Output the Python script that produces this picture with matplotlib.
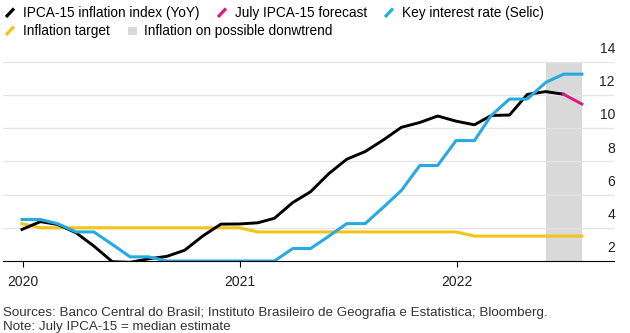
import matplotlib
matplotlib.use('Agg')
import matplotlib.pyplot as plt
from matplotlib.lines import Line2D
from matplotlib.patches import Rectangle
import pandas as pd

plt.rcParams['font.family'] = ['Liberation Sans', 'DejaVu Sans']

# monthly points, dated at month end
months = pd.date_range('2019-12-31', '2022-07-31', freq='ME')

# IPCA-15 YoY, Dec 2019 .. Jun 2022
ipca = [3.90, 4.37, 4.20, 3.70, 2.90, 1.96, 1.92, 2.13, 2.28, 2.65, 3.52, 4.22, 4.23,
        4.30, 4.57, 5.52, 6.17, 7.27, 8.13, 8.59, 9.30, 10.05, 10.34, 10.73, 10.42,
        10.20, 10.76, 10.79, 12.03, 12.20, 12.04]
# July forecast (last actual -> median estimate)
forecast = [12.04, 11.45]
# Selic, Dec 2019 .. Jul 2022
selic = [4.50, 4.50, 4.25, 3.75, 3.75, 3.00, 2.25, 2.25, 2.00, 2.00, 2.00, 2.00, 2.00,
         2.00, 2.00, 2.75, 2.75, 3.50, 4.25, 4.25, 5.25, 6.25, 7.75, 7.75, 9.25,
         9.25, 10.75, 11.75, 11.75, 12.75, 13.25, 13.25]
# inflation target, Dec 2019 .. Jul 2022
target = [4.25] + [4.00] * 12 + [3.75] * 12 + [3.50] * 7

shade_start, shade_end = '2022-05-31', '2022-07-31'
y_ticks = [2, 4, 6, 8, 10, 12, 14]
year_ticks = ['2020-01-01', '2021-01-01', '2022-01-01']
year_labels = ['2020', '2021', '2022']

BLACK = '#000000'
PINK = '#e0197d'
BLUE = '#27a9e1'
YELLOW = '#f3c317'
SHADE = '#d9d9d9'
GRID = '#e4e4e4'

W, H = 630, 333
fig = plt.figure(figsize=(W / 100, H / 100), dpi=100)

# axes placed in pixel terms
left, right, top, bottom = 3, 614, 61.7, 261
ax = fig.add_axes([left / W, 1 - bottom / H, (right - left) / W, (bottom - top) / H])

ax.set_ylim(2, 14)
ax.set_xlim(pd.Timestamp('2019-11-29'), pd.Timestamp('2022-09-23'))

ax.axvspan(pd.Timestamp(shade_start), pd.Timestamp(shade_end), color=SHADE, lw=0, zorder=1)

for v in y_ticks[1:]:
    ax.axhline(v, color=GRID, lw=0.9, zorder=1.5)

ax.plot(months, target, color=YELLOW, lw=2.2, zorder=2, solid_joinstyle='round')
ax.plot(months[:len(ipca)], ipca, color=BLACK, lw=2.1, zorder=3, solid_joinstyle='round')
ax.plot(months[len(ipca) - 1:], forecast, color=PINK, lw=2.1, zorder=3, solid_joinstyle='round')
ax.plot(months, selic, color=BLUE, lw=2.2, zorder=4, solid_joinstyle='round')

for s in ['top', 'left', 'right']:
    ax.spines[s].set_visible(False)
ax.spines['bottom'].set_color('black')
ax.spines['bottom'].set_linewidth(0.8)
ax.spines['bottom'].set_zorder(5)

ax.set_yticks([])
ax.set_xticks([pd.Timestamp(d) for d in year_ticks])
ax.set_xticklabels(year_labels)
ax.tick_params(axis='x', length=4, width=0.8, color='black', pad=6,
               labelsize=10, labelcolor='#222222')

# y labels sit above their gridlines at the right
for v in y_ticks:
    ax.text(1.0016, v + 0.77, str(v), transform=ax.get_yaxis_transform(),
            ha='right', va='center', fontsize=10, color='#222222')

# legend drawn by hand in pixel positions
def fx(x):
    return x / W

def fy(y):
    return 1 - y / H

legend_rows = [
    [('line', BLACK, 5, 'IPCA-15 inflation index (YoY)'),
     ('line', PINK, 217, 'July IPCA-15 forecast'),
     ('line', BLUE, 384, 'Key interest rate (Selic)')],
    [('line', YELLOW, 5, 'Inflation target'),
     ('box', SHADE, 128, 'Inflation on possible donwtrend')],
]
row_y = [13, 31]
for row, yc in zip(legend_rows, row_y):
    for kind, col, x0, label in row:
        if kind == 'line':
            fig.add_artist(Line2D([fx(x0 + 1), fx(x0 + 9)], [fy(yc + 4), fy(yc - 4.5)],
                                  color=col, lw=2.3, solid_capstyle='butt'))
            tx = x0 + 18
        else:
            fig.add_artist(Rectangle((fx(x0), fy(yc + 4)), 9 / W, 8 / H,
                                     transform=fig.transFigure, color=col, lw=0))
            tx = x0 + 16
        fig.text(fx(tx), fy(yc), label, ha='left', va='center', fontsize=9.8, color='black')

fig.text(fx(3), fy(313), 'Sources: Banco Central do Brasil; Instituto Brasileiro de Geografia e Estatistica; Bloomberg.',
         ha='left', va='center', fontsize=9.6, color='#333333')
fig.text(fx(3), fy(327), 'Note: July IPCA-15 = median estimate',
         ha='left', va='center', fontsize=9.6, color='#333333')

fig.savefig('out.png', dpi=100, facecolor='white')
